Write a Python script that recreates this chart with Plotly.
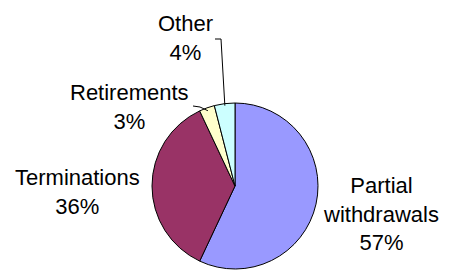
import math
import plotly.graph_objects as go

labels = ["Partial withdrawals", "Terminations", "Retirements", "Other"]
values = [57, 36, 3, 4]
colors = ["#9999FF", "#993366", "#FFFFCC", "#CCFFFF"]
label_text = ["Partial<br>withdrawals<br>57%", "Terminations<br>36%", "Retirements<br>3%", "Other<br>4%"]

# page offset caused by default body margin
OFF = 8
W, H = 449 - OFF, 270 - OFF
CX, CY, R = 235, 186, 83
FONT = dict(family="Liberation Sans, Arial, sans-serif", size=22, color="#000000")

def px(x):
    return (x - OFF) / W

def py(y):
    return 1 - (y - OFF) / H

fig = go.Figure(go.Pie(
    labels=labels, values=values, sort=False, direction="clockwise", rotation=0,
    marker=dict(colors=colors, line=dict(color="#000000", width=1)),
    textinfo="none", hoverinfo="label+percent", showlegend=False,
    domain=dict(x=[px(CX - R), px(CX + R)], y=[py(CY + R), py(CY - R)]),
))

# label placement (window-pixel centres of text blocks)
label_pos = [(381, 214), (77, 192), (129, 107), (185, 38)]
anns = []
for t, (x, y) in zip(label_text, label_pos):
    anns.append(dict(text=t, x=px(x), y=py(y), xref="paper", yref="paper",
                     showarrow=False, font=FONT, align="center",
                     xanchor="center", yanchor="middle"))

# slice mid-angles for leader lines
total = sum(values)
cum = 0
mids = []
for v in values:
    mids.append((cum + v / 2) / total * 2 * math.pi)
    cum += v

def edge(i, r=R):
    a = mids[i]
    return CX + r * math.sin(a), CY - r * math.cos(a)

shapes = []
def seg(points):
    path = "M " + " L ".join(f"{px(x)},{py(y)}" for x, y in points)
    shapes.append(dict(type="path", path=path, xref="paper", yref="paper",
                       line=dict(color="#000000", width=1)))

ex, ey = edge(3, R - 2)
seg([(215, 39), (221, 39), (ex, ey)])
rx, ry = edge(2, R - 3)
seg([(193, 106), (200, 107), (rx, ry)])

fig.update_layout(width=W, height=H, margin=dict(l=0, r=0, t=0, b=0),
                  paper_bgcolor="white", plot_bgcolor="white",
                  annotations=anns, shapes=shapes)
fig.write_html("out.html")
